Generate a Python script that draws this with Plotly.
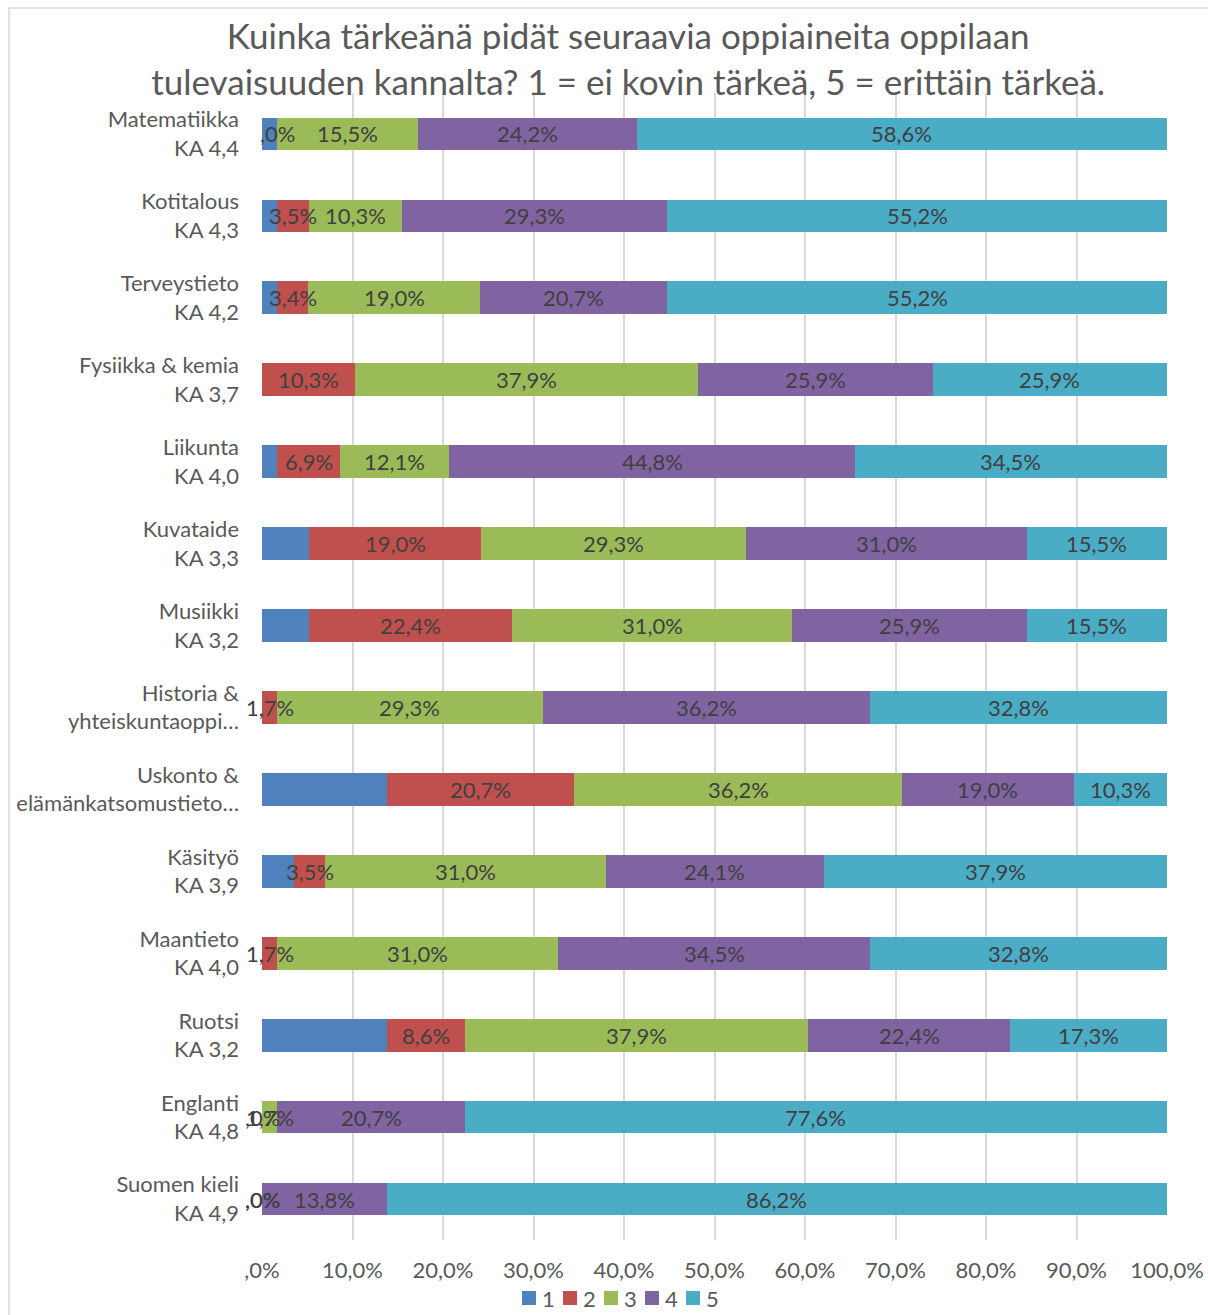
import plotly.graph_objects as go

categories = [
    "Matematiikka<br>KA 4,4",
    "Kotitalous<br>KA 4,3",
    "Terveystieto<br>KA 4,2",
    "Fysiikka & kemia<br>KA 3,7",
    "Liikunta<br>KA 4,0",
    "Kuvataide<br>KA 3,3",
    "Musiikki<br>KA 3,2",
    "Historia &<br>yhteiskuntaoppi…",
    "Uskonto &<br>elämänkatsomustieto…",
    "Käsityö<br>KA 3,9",
    "Maantieto<br>KA 4,0",
    "Ruotsi<br>KA 3,2",
    "Englanti<br>KA 4,8",
    "Suomen kieli<br>KA 4,9",
]

series_names = ["1", "2", "3", "4", "5"]
s1 = [1.7, 1.7, 1.7, 0.0, 1.7, 5.2, 5.2, 0.0, 13.8, 3.5, 0.0, 13.8, 0.0, 0.0]
s2 = [0.0, 3.5, 3.4, 10.3, 6.9, 19.0, 22.4, 1.7, 20.7, 3.5, 1.7, 8.6, 0.0, 0.0]
s3 = [15.5, 10.3, 19.0, 37.9, 12.1, 29.3, 31.0, 29.3, 36.2, 31.0, 31.0, 37.9, 1.7, 0.0]
s4 = [24.2, 29.3, 20.7, 25.9, 44.8, 31.0, 25.9, 36.2, 19.0, 24.1, 34.5, 22.4, 20.7, 13.8]
s5 = [58.6, 55.2, 55.2, 25.9, 34.5, 15.5, 15.5, 32.8, 10.3, 37.9, 32.8, 17.3, 77.6, 86.2]
series = [s1, s2, s3, s4, s5]
show_labels = [False, True, True, True, True]

colors = ["#4F81BD", "#C0504D", "#9BBB59", "#8064A2", "#4BACC6"]

tick_vals = [0, 10, 20, 30, 40, 50, 60, 70, 80, 90, 100]
tick_text = [",0%", "10,0%", "20,0%", "30,0%", "40,0%", "50,0%", "60,0%",
             "70,0%", "80,0%", "90,0%", "100,0%"]

title_text = ("Kuinka tärkeänä pidät seuraavia oppiaineita oppilaan<br>"
              "tulevaisuuden kannalta? 1 = ei kovin tärkeä, 5 = erittäin tärkeä.")

FONT = "Lato"
W, H = 1208, 1315
ML, MR, MT, MB = 262, 41, 93, 75
PW, PH = W - ML - MR, H - MT - MB

fig = go.Figure()
for name, vals, col in zip(series_names, series, colors):
    fig.add_trace(go.Bar(
        y=categories, x=vals, name=name, orientation="h",
        marker=dict(color=col, line=dict(width=0)),
        hoverinfo="x+name", showlegend=False,
    ))

def fmt(v):
    s = f"{v:.1f}".replace(".", ",")
    if s.startswith("0,"):
        s = s[1:]
    return s + "%"

annotations = []
cum = [0.0] * len(categories)
for k, vals in enumerate(series):
    for i, v in enumerate(vals):
        center = cum[i] + v / 2
        if show_labels[k]:
            annotations.append(dict(
                x=center, y=categories[i], xref="x", yref="y",
                text=fmt(v), showarrow=False,
                font=dict(family=FONT, size=22, color="#404040"),
                xanchor="center", yanchor="middle",
            ))
        cum[i] += v

# Legend (drawn in paper coordinates from pixel layout positions)
def px_x(px):
    return (px - ML) / PW

def px_y(py):
    return (H - MB - py) / PH

shapes = [dict(type="rect", xref="paper", yref="paper",
               x0=px_x(9), x1=px_x(1260), y0=px_y(1360), y1=px_y(8),
               line=dict(color="#d9d9d9", width=1.5), fillcolor="rgba(0,0,0,0)",
               layer="below")]
leg_y = 1298
for j, (name, col) in enumerate(zip(series_names, colors)):
    left = 522 + 41 * j
    shapes.append(dict(type="rect", xref="paper", yref="paper",
                       x0=px_x(left), x1=px_x(left + 14),
                       y0=px_y(leg_y + 7), y1=px_y(leg_y - 7),
                       line=dict(width=0), fillcolor=col))
    annotations.append(dict(x=px_x(left + 18), y=px_y(leg_y), xref="paper", yref="paper",
                            text=name, showarrow=False, xanchor="left", yanchor="middle",
                            font=dict(family=FONT, size=22, color="#595959")))

fig.update_layout(
    width=W, height=H,
    barmode="stack", bargap=0.6,
    plot_bgcolor="white", paper_bgcolor="white",
    margin=dict(l=ML, r=MR, t=MT, b=MB, autoexpand=False),
    title=dict(text=title_text, x=0.52, xanchor="center",
               yref="container", y=1 - 49 / H, yanchor="middle",
               font=dict(family=FONT, size=35, color="#595959")),
    font=dict(family=FONT, color="#595959"),
    showlegend=False,
    annotations=annotations,
    shapes=shapes,
)
fig.update_xaxes(range=[0, 100], tickvals=tick_vals, ticktext=tick_text,
                 showgrid=True, gridcolor="#d9d9d9", gridwidth=2,
                 zeroline=False, showline=False, automargin=False,
                 tickfont=dict(family=FONT, size=22, color="#595959"),
                 ticks="", ticklabelstandoff=15, fixedrange=True)
fig.update_yaxes(autorange="reversed", showgrid=False, showline=False, zeroline=False,
                 automargin=False,
                 tickfont=dict(family=FONT, size=22, color="#595959"),
                 ticks="", ticklabelstandoff=22, fixedrange=True)

fig.write_html("out.html")
